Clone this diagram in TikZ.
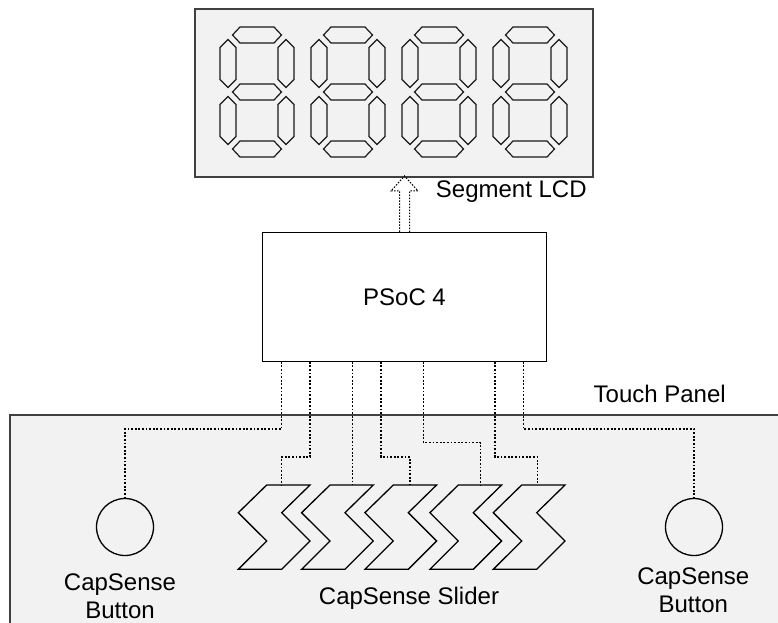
\documentclass[tikz,border=0pt]{standalone}
\usepackage{fontspec}
\setmainfont{Liberation Sans}
\begin{document}
\begin{tikzpicture}[x=1pt,y=-1pt,
  box/.style={draw=black,line width=1.5pt,fill=white,inner sep=0pt},
  panel/.style={draw=black!75,line width=1.6pt,fill=black!5},
  seg/.style={draw=black!90,line width=1.2pt,line join=miter},
  wire/.style={draw=black,line width=1.2pt,dash pattern=on 1.8pt off 1.8pt},
  arrowline/.style={draw=black,line width=1pt,dash pattern=on 1.5pt off 1.5pt},
  pad/.style={draw=black,line width=1.3pt},
  lbl/.style={font=\fontsize{24}{28}\selectfont,inner sep=0pt,text=black}]
\useasboundingbox (0,0) rectangle (778,622);
% touch panel (extends beyond the page)
\begin{scope}
  \clip (0,0) rectangle (778,622);
  \draw[panel] (10,415) rectangle (800,660);
\end{scope}
% segment LCD
\node[panel,minimum width=398.3pt,minimum height=167.7pt,anchor=north west,inner sep=0pt] (lcd) at (194,8.3) {};
\foreach \cx in {257,348,439,530} {
  \begin{scope}[shift={(\cx,92)}]
    \foreach \dy in {-57,0,57}
      \draw[seg] (-24.5,\dy) -- (-17,\dy-8) -- (17,\dy-8) -- (24.5,\dy) -- (17,\dy+8) -- (-17,\dy+8) -- cycle;
    \foreach \sx in {-29,29}
      \foreach \sy in {-28.5,28.5}
        \draw[seg] (\sx,\sy-24) -- (\sx+8,\sy-16) -- (\sx+8,\sy+16) -- (\sx,\sy+24) -- (\sx-8,\sy+16) -- (\sx-8,\sy-16) -- cycle;
  \end{scope}
}
\node[lbl,anchor=base west] (lcdlbl) at (435.7,197) {Segment LCD};
% PSoC
\node[box,minimum width=284.4pt,minimum height=129pt,font=\fontsize{24}{28}\selectfont] (psoc) at (404.5,297.2) {PSoC 4};
% hollow bus arrow from PSoC to LCD
\draw[arrowline] ([xshift=-5pt]psoc.north) -- ++(0,-41) -- ++(-8.5,0)
  -- ++(13.5,-15) -- ++(13.5,15) -- ++(-8.5,0) -- ++(0,41);
% pins on PSoC
\coordinate (p1) at (281.7,361.7);
\coordinate (p2) at (310,361.7);
\coordinate (p3) at (352.7,361.7);
\coordinate (p4) at (381,361.7);
\coordinate (p5) at (423.5,361.7);
\coordinate (p6) at (495,361.7);
\coordinate (p7) at (523.3,361.7);
% slider segments
\foreach \i/\t in {1/266.7,2/330,3/393.3,4/458.3,5/521.7}
  \draw[pad,line join=miter] (\t,485) -- (\t+43.3,485) -- (\t+15,512.7) -- (\t+43.3,541) -- (\t+15,569.3)
    -- (\t-28.4,569.3) -- (\t,541) -- (\t-28.4,512.7) -- cycle;
\coordinate (s1) at (281.7,485);
\coordinate (s2) at (352.7,485);
\coordinate (s3) at (410,485);
\coordinate (s4) at (480.7,485);
\coordinate (s5) at (537.3,485);
% buttons
\node[pad,circle,minimum size=57pt,inner sep=0pt] (b1) at (125,527) {};
\node[pad,circle,minimum size=57pt,inner sep=0pt] (b2) at (694,527) {};
% wires
\draw[wire] (p1) -- ++(0,67.3) -| (b1.north);
\draw[wire] (p2) -- ++(0,95.3) -| (s1);
\draw[wire] (p3) -- (s2);
\draw[wire] (p4) -- ++(0,95.3) -| (s3);
\draw[wire] (p5) -- ++(0,81) -| (s4);
\draw[wire] (p6) -- ++(0,95.3) -| (s5);
\draw[wire] (p7) -- ++(0,67.3) -| (b2.north);
% labels
\node[lbl,anchor=base] (tp) at (659.7,402.7) {Touch Panel};
\node[lbl,anchor=base] (sl) at (409,604) {CapSense Slider};
\node[lbl,anchor=base] (b1a) at (120,590.7) {CapSense};
\node[lbl,anchor=base] (b1b) at (120,618) {Button};
\node[lbl,anchor=base] (b2a) at (693.3,584) {CapSense};
\node[lbl,anchor=base] (b2b) at (693.3,612) {Button};
\end{tikzpicture}
\end{document}
